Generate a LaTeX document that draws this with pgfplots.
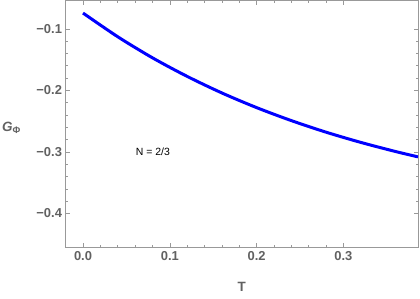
\documentclass[border=0pt]{standalone}
\usepackage{fontspec}
\setmainfont{Liberation Sans}
\usepackage{pgfplots}
\pgfplotsset{compat=1.18}
\usetikzlibrary{calc}
\definecolor{tickgray}{gray}{0.38}
\definecolor{framegray}{gray}{0.6}
\begin{document}
\begin{tikzpicture}
\begin{axis}[
 scale only axis, width=352.5bp, height=247.2bp,
 xmin=-0.0202, xmax=0.386, ymin=-0.4557, ymax=-0.0541,
 xtick={0,0.1,0.2,0.3}, xticklabels={0.0,0.1,0.2,0.3},
 ytick={-0.4,-0.3,-0.2,-0.1}, yticklabels={−0.4,−0.3,−0.2,−0.1},
 minor tick num=4,
 tick align=inside,
 major tick length=4.5bp, minor tick length=2.5bp,
 axis line style={framegray, line width=0.6pt},
 every tick/.style={framegray, line width=0.5pt},
 tick label style={font=\fontsize{13}{15}\selectfont\bfseries, text=tickgray},
 xlabel={T},
 xlabel style={font=\fontsize{13.5}{15}\selectfont\bfseries, text=tickgray, at={(axis description cs:0.5,0)}, anchor=center, yshift=-39.5bp},
 ylabel={\textit{G}\textsubscript{Φ}},
 ylabel style={font=\fontsize{13.5}{15}\selectfont\bfseries, text=tickgray, rotate=-90, at={(axis description cs:0,0.5)}, anchor=center, xshift=-54bp, yshift=-4bp},
]
\addplot[blue, line width=3bp, smooth] coordinates {
 (0,-0.0745) (0.04,-0.1130) (0.08,-0.1472) (0.12,-0.1774) (0.16,-0.2043)
 (0.20,-0.2281) (0.24,-0.2492) (0.28,-0.2680) (0.32,-0.2846)
 (0.36,-0.2994) (0.386,-0.3081)
};
\node at (axis cs:0.0806,-0.3005) {\fontsize{10.5}{12}\selectfont N = 2/3};
\coordinate (ll) at (rel axis cs:0,0);
\coordinate (ur) at (rel axis cs:1,1);
\end{axis}
\pgfresetboundingbox
\path ($(ll)+(-65.5bp,-51.3bp)$) rectangle ($(ur)+(2bp,0.5bp)$);
\end{tikzpicture}
\end{document}
